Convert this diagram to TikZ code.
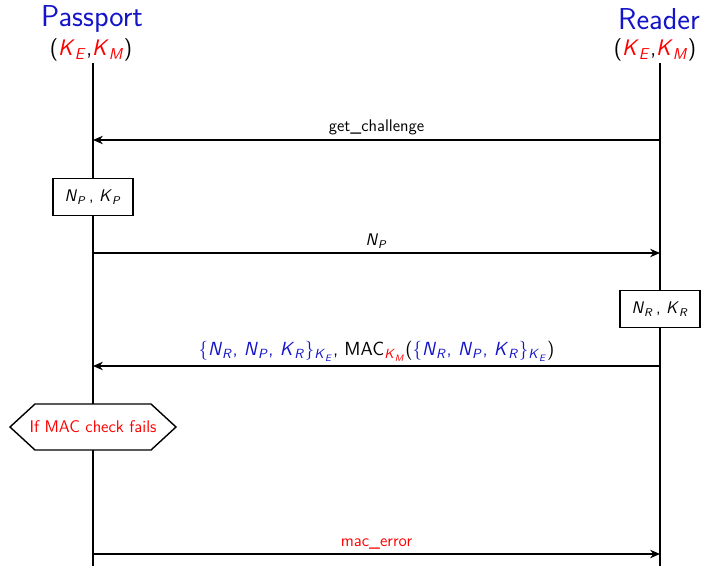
\documentclass[tikz,border=0pt]{standalone}
\usetikzlibrary{arrows.meta}
\definecolor{pblue}{RGB}{20,20,200}
\newcommand{\vr}[2]{\textsl{#1}\textsubscript{\textsl{#2}}}
\tikzstyle{party}=[text=pblue,font=\sffamily\fontsize{21.5}{24}\selectfont,inner sep=1pt]
\tikzstyle{keys}=[font=\sffamily\fontsize{16}{18}\selectfont,inner sep=1pt]
\tikzstyle{lbl}=[font=\sffamily\fontsize{12}{14}\selectfont,inner sep=3pt]
\tikzstyle{life}=[line width=1pt]
\tikzstyle{msgarrow}=[line width=1pt,-{Stealth[length=7pt,width=6pt]}]
\tikzstyle{comp}=[draw,fill=white,line width=1pt,minimum width=57pt,minimum height=26pt,font=\sffamily\fontsize{12}{14}\selectfont]
\tikzstyle{cond}=[draw,fill=white,line width=1pt]
\tikzstyle{condtext}=[inner sep=0pt,text=red,font=\sffamily\fontsize{12}{14}\selectfont]

\begin{document}
\begin{tikzpicture}[x=0.025cm,y=-0.025cm]
\useasboundingbox (0,0) rectangle (704,566);
\node[party] (pname) at (92,19) {Passport};
\node[keys] (pkeys) at (91,50) {(\textcolor{red}{\vr{K}{E}},\textcolor{red}{\vr{K}{M}})};
\node[party] (rname) at (659,19) {Reader};
\node[keys] (rkeys) at (655,50) {(\textcolor{red}{\vr{K}{E}},\textcolor{red}{\vr{K}{M}})};
\coordinate (pend) at (93,566); \coordinate (rend) at (660,566);
\draw[life] (pkeys.south -| pend) -- (pend);
\draw[life] (rkeys.south -| rend) -- (rend);
% messages
\coordinate (r1) at (660,140); \coordinate (p1) at (93,140);
\draw[msgarrow] (r1) -- node[lbl,above] {get\_challenge} (p1);
\node[comp] (pnonce) at (93,197) {\vr{N}{P}\,, \vr{K}{P}};
\coordinate (p2) at (93,253); \coordinate (r2) at (660,253);
\draw[msgarrow] (p2) -- node[lbl,above] {\vr{N}{P}} (r2);
\node[comp] (rnonce) at (660,309) {\vr{N}{R}\,, \vr{K}{R}};
\coordinate (r3) at (660,366); \coordinate (p3) at (93,366);
\draw[msgarrow] (r3) -- node[lbl,above,font=\sffamily\fontsize{13.5}{15}\selectfont] {\textcolor{pblue}{\{\vr{N}{R}, \vr{N}{P}, \vr{K}{R}\}\textsubscript{\vr{K}{E}}},\ MAC\textsubscript{\textcolor{red}{\vr{K}{M}}}(\textcolor{pblue}{\{\vr{N}{R}, \vr{N}{P}, \vr{K}{R}\}\textsubscript{\vr{K}{E}}})} (p3);
% check
\draw[cond,shift={(93,427)}] (-83,0) -- (-58,-23) -- (58,-23) -- (83,0) -- (58,23) -- (-58,23) -- cycle;
\node[condtext] (check) at (93,427) {If MAC check fails};
\coordinate (p4) at (93,554); \coordinate (r4) at (660,554);
\draw[msgarrow] (p4) -- node[lbl,above,text=red] {mac\_error} (r4);
\end{tikzpicture}
\end{document}
